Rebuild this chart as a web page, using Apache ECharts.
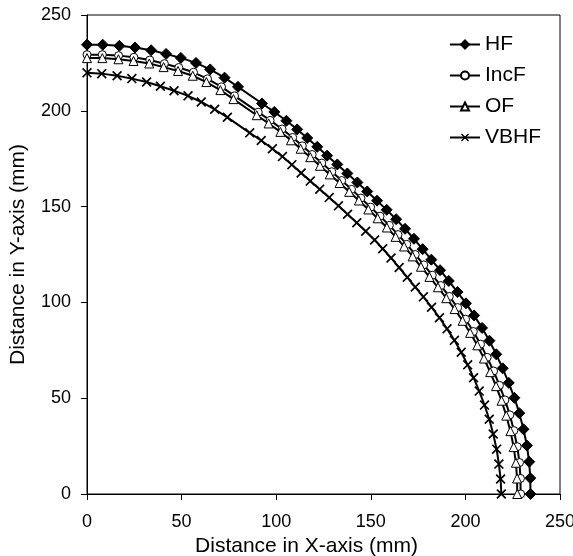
<!DOCTYPE html>
<html>
<head>
<meta charset="utf-8">
<script src="https://cdn.jsdelivr.net/npm/echarts@6/dist/echarts.min.js"></script>
<style>
html,body{margin:0;padding:0;background:#fff;}
#chart{width:573px;height:556px;}
</style>
</head>
<body>
<div id="chart"></div>
<script>
var seriesNames = ['HF', 'IncF', 'OF', 'VBHF'];
var xTicks = [0, 50, 100, 150, 200, 250];
var yTicks = [0, 50, 100, 150, 200, 250];

var hfX = [0, 8.3, 17.1, 25.4, 33.9, 41.8, 49.6, 57.6, 65.1, 72.7, 79.8, 92.5, 99.0, 105.4, 111.1, 116.4, 121.7, 126.9, 132.3, 137.6, 142.9, 148.1, 153.3, 158.4, 163.4, 168.1, 172.8, 177.4, 182.0, 186.6, 191.2, 195.8, 200.3, 204.6, 208.8, 212.7, 216.3, 219.7, 222.9, 225.9, 228.5, 230.7, 232.5, 233.7, 234.3, 234.4];
var hfY = [234.5, 234.5, 233.9, 233.0, 231.6, 229.7, 227.6, 225.0, 221.6, 217.3, 212.5, 203.8, 199.4, 194.8, 190.3, 185.8, 181.2, 176.6, 172.0, 167.3, 162.6, 157.9, 153.1, 148.3, 143.4, 138.4, 133.2, 127.8, 122.3, 116.8, 111.2, 105.4, 99.5, 93.2, 86.7, 80.0, 72.9, 65.6, 58.0, 50.2, 42.2, 33.8, 25.3, 16.8, 8.3, 0];

var incfX = [0, 8.1, 16.7, 24.8, 33.2, 40.9, 48.5, 56.3, 63.7, 71.1, 78.0, 90.5, 96.8, 103.1, 108.7, 113.8, 119.0, 124.1, 129.4, 134.6, 139.8, 144.8, 149.9, 154.9, 159.8, 164.4, 169.0, 173.5, 178.0, 182.5, 187.0, 191.5, 195.9, 200.1, 204.2, 208.0, 211.5, 214.9, 218.0, 220.9, 223.5, 225.6, 227.4, 228.6, 229.1, 229.2];
var incfY = [229.3, 229.3, 228.8, 227.9, 226.5, 224.6, 222.6, 220.1, 216.7, 212.5, 207.8, 199.3, 195.0, 190.5, 186.1, 181.7, 177.2, 172.7, 168.2, 163.6, 159.0, 154.4, 149.7, 145.0, 140.2, 135.4, 130.3, 125.0, 119.6, 114.2, 108.8, 103.1, 97.3, 91.2, 84.8, 78.2, 71.3, 64.2, 56.7, 49.1, 41.3, 33.1, 24.7, 16.4, 8.1, 0];

var ofX = [0, 8.1, 16.6, 24.6, 32.9, 40.5, 48.1, 55.9, 63.1, 70.5, 77.4, 89.7, 96.0, 102.2, 107.8, 112.9, 118.0, 123.1, 128.3, 133.5, 138.6, 143.7, 148.7, 153.6, 158.5, 163.1, 167.6, 172.1, 176.5, 181.0, 185.5, 189.9, 194.3, 198.5, 202.5, 206.3, 209.8, 213.1, 216.2, 219.1, 221.6, 223.8, 225.5, 226.7, 227.3, 227.4];
var ofY = [227.5, 227.5, 226.9, 226.0, 224.7, 222.8, 220.8, 218.3, 215.0, 210.8, 206.1, 197.7, 193.4, 189.0, 184.6, 180.2, 175.8, 171.3, 166.8, 162.3, 157.7, 153.2, 148.5, 143.9, 139.1, 134.2, 129.2, 124.0, 118.6, 113.3, 107.9, 102.2, 96.5, 90.4, 84.1, 77.6, 70.7, 63.6, 56.3, 48.7, 40.9, 32.8, 24.5, 16.3, 8.1, 0];

var vbhfX = [0, 7.8, 15.9, 23.7, 31.5, 38.8, 46.0, 53.4, 60.4, 67.5, 74.2, 86.0, 92.1, 98.0, 103.3, 108.3, 113.2, 118.0, 123.0, 128.0, 132.9, 137.7, 142.6, 147.3, 152.0, 156.3, 160.7, 165.0, 169.3, 173.5, 177.8, 182.1, 186.3, 190.3, 194.2, 197.8, 201.2, 204.3, 207.3, 210.1, 212.6, 214.7, 216.5, 217.7, 218.6, 219.0];
var vbhfY = [219.8, 219.4, 218.3, 216.8, 215.0, 212.8, 210.5, 207.8, 204.6, 200.8, 196.6, 188.5, 184.5, 180.2, 176.1, 171.9, 167.5, 163.3, 159.1, 154.7, 150.4, 146.0, 141.6, 137.1, 132.6, 128.0, 123.2, 118.2, 113.1, 108.0, 102.9, 97.5, 92.0, 86.2, 80.2, 74.0, 67.4, 60.7, 53.7, 46.4, 39.0, 31.3, 23.4, 15.6, 7.8, 0];

function zip(xs, ys) { return xs.map(function (x, i) { return [x, ys[i]]; }); }

var FONT = '"Liberation Sans", Arial, sans-serif';
var X_SYMBOL = 'path://M0,1.2 L1.2,0 L10,8.8 L8.8,10 Z M8.8,0 L10,1.2 L1.2,10 L0,8.8 Z';

var chart = echarts.init(document.getElementById('chart'), null, {renderer: 'canvas'});

function axisCommon(name, ticks) {
  return {
    type: 'value',
    min: ticks[0],
    max: ticks[ticks.length - 1],
    interval: ticks[1] - ticks[0],
    name: name,
    nameLocation: 'middle',
    nameTextStyle: {fontSize: 21, color: '#000', fontFamily: FONT},
    axisLine: {show: true, onZero: false, lineStyle: {color: '#000', width: 1}},
    axisTick: {show: true, inside: false, length: 6, lineStyle: {color: '#000', width: 1}},
    splitLine: {show: false},
    axisLabel: {fontSize: 18, color: '#000', fontFamily: FONT}
  };
}

var xAxis = axisCommon('Distance in X-axis (mm)', xTicks);
xAxis.nameGap = 40;
xAxis.axisLabel.margin = 19;
xAxis.nameTextStyle.padding = [0, 34, 0, 0];
var yAxis = axisCommon('Distance in Y-axis (mm)', yTicks);
yAxis.nameGap = 58;
yAxis.axisLabel.margin = 16;

var styles = [
  {symbol: 'diamond', size: 11, fill: '#000'},
  {symbol: 'circle', size: 8, fill: '#fff'},
  {symbol: 'triangle', size: 9, fill: '#fff'},
  {symbol: X_SYMBOL, size: 10, fill: '#000'}
];
var datas = [zip(hfX, hfY), zip(incfX, incfY), zip(ofX, ofY), zip(vbhfX, vbhfY)];

var series = seriesNames.map(function (n, i) {
  return {
    name: n,
    type: 'line',
    data: datas[i],
    symbol: styles[i].symbol,
    symbolSize: styles[i].size,
    showAllSymbol: true,
    smooth: false,
    lineStyle: {color: '#000', width: 2},
    itemStyle: {color: styles[i].fill, borderColor: '#000', borderWidth: i === 3 ? 0 : 1},
    z: 2 + i,
    animation: false
  };
});

chart.setOption({
  animation: false,
  backgroundColor: '#fff',
  grid: {left: 87, right: 13, top: 15, bottom: 62, show: true, borderColor: '#000', borderWidth: 1, backgroundColor: 'transparent', containLabel: false, outerBoundsMode: 'none'},
  xAxis: xAxis,
  yAxis: yAxis,
  legend: {
    data: seriesNames,
    orient: 'vertical',
    left: 444,
    top: 29,
    itemWidth: 30,
    itemHeight: 10,
    itemGap: 10,
    textStyle: {fontSize: 21, color: '#000', fontFamily: FONT},
    inactiveColor: '#000'
  },
  series: series
});
</script>
</body>
</html>
